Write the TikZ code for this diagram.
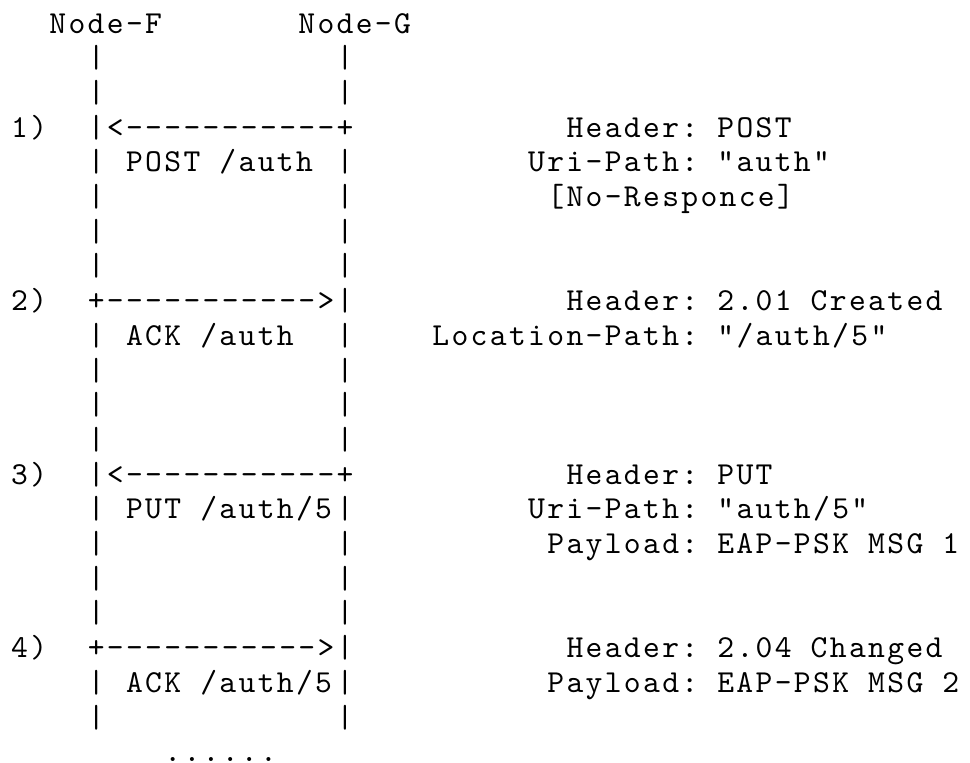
\documentclass[tikz,border=0pt]{standalone}
\usepackage{fontspec}
\setmonofont{lmmono10-regular.otf}[LetterSpace=7.344]
\newcommand\asciifont{\ttfamily\fontsize{32pt}{34.7pt}\selectfont\fontdimen2\font=19.15pt\relax\fontdimen3\font=0pt\relax\fontdimen4\font=0pt\relax}
\begin{document}
\begin{tikzpicture}[x=19.15pt,y=-34.7pt,
  txt/.style={anchor=base west,inner sep=0pt,outer sep=0pt,font=\asciifont}]
\useasboundingbox (0pt,0pt) rectangle (970pt,-763pt);
\fill[white] (0pt,0pt) rectangle (970pt,-763pt);
\begin{scope}[shift={(11.17pt,-33pt)}]
\node[txt] (nf) at (2,0) {Node-F};
\node[txt] (ng) at (15,0) {Node-G};
\foreach \r in {1,2,4,5,6,7,9,10,11,12,14,15,16,17,19,20}{
  \node[txt] (lf\r) at (4,\r) {|};
  \node[txt] (lg\r) at (17,\r) {|};
}
% message 1
\node[txt] (s1) at (0,3) {1)};
\node[txt] (m1) at (4,3) {|<-----------+};
\node[txt] (h1) at (29,3) {Header: POST};
\node[txt] (l1) at (6,4) {POST /auth};
\node[txt] (u1) at (27,4) {Uri-Path: "auth"};
\node[txt] (n1) at (28,5) {[No-Responce]};
% message 2
\node[txt] (s2) at (0,8) {2)};
\node[txt] (m2) at (4,8) {+----------->|};
\node[txt] (h2) at (29,8) {Header: 2.01 Created};
\node[txt] (l2) at (6,9) {ACK /auth};
\node[txt] (u2) at (22,9) {Location-Path: "/auth/5"};
% message 3
\node[txt] (s3) at (0,13) {3)};
\node[txt] (m3) at (4,13) {|<-----------+};
\node[txt] (h3) at (29,13) {Header: PUT};
\node[txt] (l3) at (6,14) {PUT /auth/5};
\node[txt] (u3) at (27,14) {Uri-Path: "auth/5"};
\node[txt] (p3) at (28,15) {Payload: EAP-PSK MSG 1};
% message 4
\node[txt] (s4) at (0,18) {4)};
\node[txt] (m4) at (4,18) {+----------->|};
\node[txt] (h4) at (29,18) {Header: 2.04 Changed};
\node[txt] (l4) at (6,19) {ACK /auth/5};
\node[txt] (p4) at (28,19) {Payload: EAP-PSK MSG 2};
\node[txt] (dots) at (8,21) {......};
\end{scope}
\end{tikzpicture}
\end{document}
